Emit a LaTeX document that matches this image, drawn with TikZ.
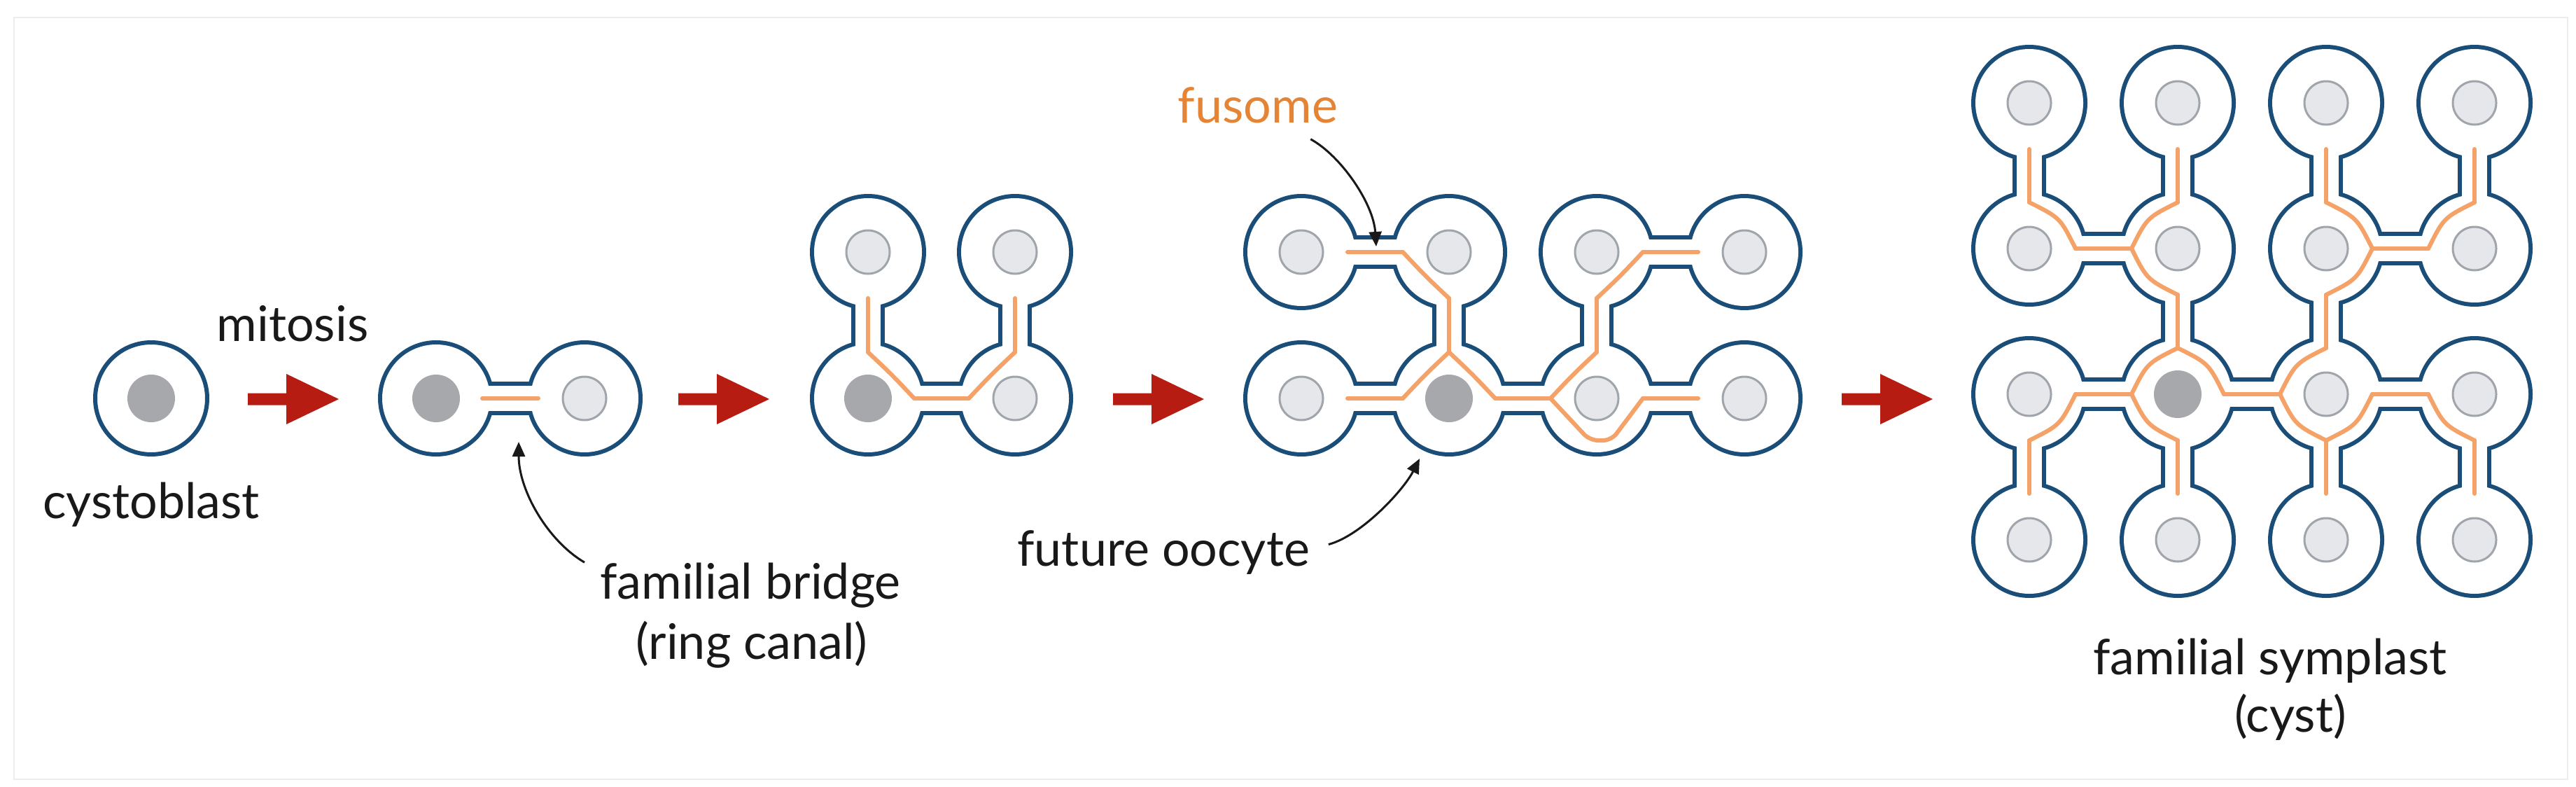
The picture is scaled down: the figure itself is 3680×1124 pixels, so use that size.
\documentclass[tikz,border=0pt]{standalone}
\usepackage{fontspec}
\setmainfont{Lato}
\usetikzlibrary{arrows.meta, calc, positioning}

\definecolor{cellblue}{RGB}{26,78,120}
\definecolor{nucfill}{RGB}{229,231,235}
\definecolor{nucline}{RGB}{160,165,171}
\definecolor{oocytegray}{RGB}{166,168,172}
\definecolor{fusomeorange}{RGB}{244,162,104}
\definecolor{fusometext}{RGB}{228,132,52}
\definecolor{arrowred}{RGB}{182,28,18}
\definecolor{inkblack}{RGB}{25,25,25}
\definecolor{framegray}{RGB}{236,236,236}

\tikzset{
  cellwall/.style={fill=cellblue},
  cellbody/.style={fill=white},
  bridgewall/.style={draw=cellblue, line width=48pt},
  bridgeopen/.style={draw=white, line width=36pt},
  fusome/.style={draw=fusomeorange, line width=6pt, line cap=round, line join=round},
  nucleus/.style={fill=nucfill, draw=nucline, line width=3pt},
  oocyte/.style={fill=oocytegray},
  stagearrow/.style={fill=arrowred},
  lbl/.style={inner sep=0pt, text=inkblack, font=\fontsize{70}{84}\selectfont},
  pointer/.style={draw=inkblack, line width=3pt, -{Triangle[length=21pt, width=18pt]}},
}

% outline of a cyst: cells #1 joined by bridges #2, fusome through the bridges
\newcommand{\drawcyst}[2]{%
  \foreach \cel in {#1} \fill[cellwall] (\cel) circle[radius=83pt];
  \foreach \ca/\cb in {#2} \draw[bridgewall] (\ca) -- (\cb);
  \foreach \cel in {#1} \fill[cellbody] (\cel) circle[radius=77pt];
  \foreach \ca/\cb in {#2} \draw[bridgeopen] (\ca) -- (\cb);
  \foreach \ca/\cb in {#2} \draw[fusome] ($(\ca)!66pt!(\cb)$) -- ($(\cb)!66pt!(\ca)$);
}
% fusome inside cell #2, from side #3 to side #4 (#1 = bulge)
\newcommand{\fuslink}[4][34]{%
  \draw[fusome] ($(#2)+66*(#3)$) .. controls ($(#2)+#1*(#3)+#1*(#4)$) .. ($(#2)+66*(#4)$);
}

\begin{document}
\begin{tikzpicture}[x=1pt, y=-1pt]
  \useasboundingbox (0,0) rectangle (3680,1124);
  \draw[framegray, line width=2pt] (20,25) rectangle (3668,1113);

  % cell centres
  \coordinate (cb) at (216,569);
  \coordinate (two1) at (623,569);
  \coordinate (two2) at (835,569);
  \foreach \i in {1,2} \foreach \j in {1,2}
    \coordinate (four\i\j) at ({1240+210*(\i-1)},{360+209*(\j-1)});
  \foreach \i in {1,...,4} \foreach \j in {1,2}
    \coordinate (eight\i\j) at ({1859+211*(\i-1)},{360+209*(\j-1)});
  \foreach \i in {1,...,4} \foreach \j in {1,...,4}
    \coordinate (sixteen\i\j) at ({2899+212*(\i-1)},{147+208*(\j-1)});

  % cystoblast
  \draw[cellblue, line width=6pt] (cb) circle[radius=80pt];

  % 2 cells
  \drawcyst{two1,two2}{two1/two2}

  % 4 cells
  \drawcyst{four11,four21,four12,four22}{four11/four12, four21/four22, four12/four22}
  \fuslink{four12}{0,-1}{1,0}
  \fuslink{four22}{-1,0}{0,-1}

  % 8 cells
  \drawcyst{eight11,eight21,eight31,eight41,eight12,eight22,eight32,eight42}
    {eight11/eight21, eight31/eight41, eight21/eight22, eight31/eight32,
     eight12/eight22, eight22/eight32, eight32/eight42}
  \fuslink{eight21}{-1,0}{0,1}
  \fuslink{eight22}{0,-1}{-1,0}
  \fuslink{eight22}{0,-1}{1,0}
  \fuslink{eight32}{-1,0}{0,-1}
  \fuslink{eight31}{0,1}{1,0}
  \draw[fusome, rounded corners=12pt] ($(eight32)+(-66,0)$) -- ($(eight32)+(-10,60)$)
    -- ($(eight32)+(21,60)$) -- ($(eight32)+(66,0)$);

  % 16 cells
  \drawcyst{sixteen11,sixteen21,sixteen31,sixteen41,sixteen12,sixteen22,sixteen32,sixteen42,
            sixteen13,sixteen23,sixteen33,sixteen43,sixteen14,sixteen24,sixteen34,sixteen44}
    {sixteen11/sixteen12, sixteen21/sixteen22, sixteen31/sixteen32, sixteen41/sixteen42,
     sixteen12/sixteen22, sixteen32/sixteen42, sixteen22/sixteen23, sixteen32/sixteen33,
     sixteen13/sixteen23, sixteen23/sixteen33, sixteen33/sixteen43,
     sixteen13/sixteen14, sixteen23/sixteen24, sixteen33/sixteen34, sixteen43/sixteen44}
  \fuslink[44]{sixteen12}{0,-1}{1,0}
  \fuslink[44]{sixteen22}{-1,0}{0,-1}
  \fuslink[44]{sixteen22}{-1,0}{0,1}
  \fuslink[44]{sixteen32}{0,-1}{1,0}
  \fuslink[44]{sixteen32}{0,1}{1,0}
  \fuslink[44]{sixteen42}{-1,0}{0,-1}
  \fuslink[44]{sixteen13}{1,0}{0,1}
  \fuslink[44]{sixteen23}{0,-1}{-1,0}
  \fuslink[44]{sixteen23}{0,-1}{1,0}
  \fuslink[44]{sixteen23}{-1,0}{0,1}
  \fuslink[44]{sixteen33}{-1,0}{0,-1}
  \fuslink[44]{sixteen33}{-1,0}{0,1}
  \fuslink[44]{sixteen33}{0,1}{1,0}
  \fuslink[44]{sixteen43}{-1,0}{0,1}

  % nuclei
  \foreach \cel in {two2,four11,four21,four22}
    \filldraw[nucleus] (\cel) circle[radius=31pt];
  \foreach \i in {1,...,4} \foreach \j in {1,2}
    \filldraw[nucleus] (eight\i\j) circle[radius=31pt];
  \foreach \i in {1,...,4} \foreach \j in {1,...,4}
    \filldraw[nucleus] (sixteen\i\j) circle[radius=31pt];
  \foreach \cel in {cb,two1,four12,eight22,sixteen23}
    \fill[oocyte] (\cel) circle[radius=34pt];

  % mitosis arrows
  \foreach \ax in {354,969,1590,2631}
    \fill[stagearrow] (\ax,561.5) -- ++(55,0) -- ++(0,-27.5) -- ++(75,36)
      -- ++(-75,36) -- ++(0,-27.5) -- ++(-55,0) -- cycle;

  % labels
  \node[lbl, anchor=base] (mitosislbl) at (418,487) {mitosis};
  \node[lbl, anchor=base] (cystolbl) at (216,740) {cystoblast};
  \node[lbl, anchor=base] (bridgelbl) at (1072,855) {familial bridge};
  \node[lbl, anchor=base] (canallbl) at ($(bridgelbl.base)+(2,86)$) {(ring canal)};
  \node[lbl, anchor=base] (oocytelbl) at (1662,808) {future oocyte};
  \node[lbl, anchor=base, text=fusometext] (fusomelbl) at (1797,175) {fusome};
  \node[lbl, anchor=base] (symplastlbl) at (3243,963) {familial symplast};
  \node[lbl, anchor=base] (cystlbl) at (3272,1045) {(cyst)};

  % pointers
  \coordinate (bridgetip) at (741,631);
  \coordinate (fusometip) at (1966,352);
  \coordinate (oocytetip) at (2028,655);
  \draw[pointer] ([xshift=-22pt]bridgelbl.north west) .. controls (782,772) and (741,700) .. (bridgetip);
  \draw[pointer] ([xshift=-39pt,yshift=-23pt]fusomelbl.south east) .. controls (1915,222) and (1962,290) .. (fusometip);
  \draw[pointer] ([xshift=27pt,yshift=11pt]oocytelbl.east) .. controls (1945,765) and (2005,700) .. (oocytetip);
\end{tikzpicture}
\end{document}
